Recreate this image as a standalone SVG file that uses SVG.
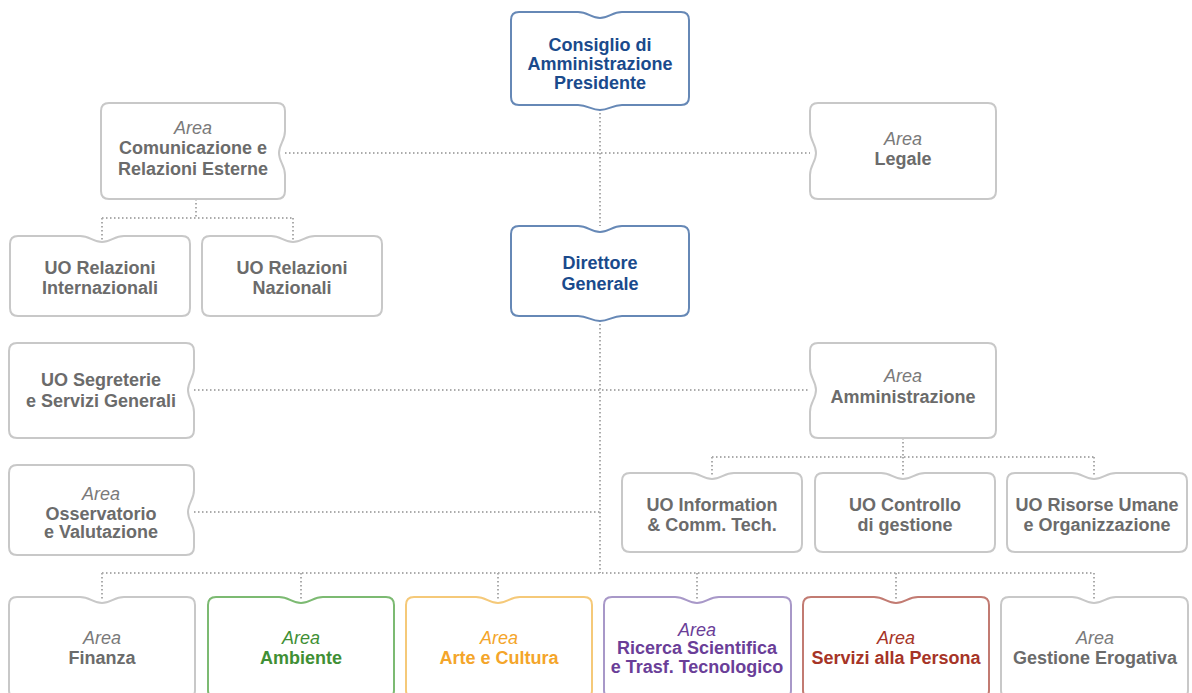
<svg xmlns="http://www.w3.org/2000/svg" width="1192" height="693" viewBox="0 0 1192 693">
<style>
.box{fill:#fff;stroke:#c8c8c8;stroke-width:2}
.blue{stroke:#6688b6}
.green{stroke:#7cba72}
.orange{stroke:#f5c979}
.purple{stroke:#a898c8}
.red{stroke:#c27b72}
.con{fill:none;stroke:#ababab;stroke-width:2;stroke-dasharray:1.5 2.5}
text{font-family:"Liberation Sans",Arial,sans-serif;font-size:18px;text-anchor:middle}
.b{font-weight:bold;fill:#6b6b6b}
.a{font-style:italic;fill:#7a7a7a}
.tb{fill:#1a4a8c}
.tg{fill:#3f8f35}
.to{fill:#f4a52a}
.tp{fill:#6a3e98}
.tr{fill:#a63427}
</style>
<g id="connectors">
<path class="con" d="M600 105V226M285 153H810M600 316V573M196 199V218M102 218H293M102 218V240M293 218V240M194 390H810M194 512H600M903 438V457M712 457H1094M712 457V477M903 457V477M1094 457V477M102 573H1094M102 573V600M301 573V600M498 573V600M697 573V600M896 573V600M1094 573V600"/>
</g>
<g id="consiglio">
<path class="box blue" d="M519 12H578C588 12 591 18 600 18C609 18 612 12 622 12H681Q689 12 689 20V97Q689 105 681 105H622C612 105 609 110 600 110C591 110 588 105 578 105H519Q511 105 511 97V20Q511 12 519 12Z"/>
<text class="b tb" x="600" y="51">Consiglio di</text>
<text class="b tb" x="600" y="70">Amministrazione</text>
<text class="b tb" x="600" y="89">Presidente</text>
</g>
<g id="direttore">
<path class="box blue" d="M519 226H578C588 226 591 232 600 232C609 232 612 226 622 226H681Q689 226 689 234V308Q689 316 681 316H622C612 316 609 321 600 321C591 321 588 316 578 316H519Q511 316 511 308V234Q511 226 519 226Z"/>
<text class="b tb" x="600" y="269">Direttore</text>
<text class="b tb" x="600" y="290">Generale</text>
</g>
<g id="comunicazione">
<path class="box" d="M109 103H277Q285 103 285 111V131C285 141 279 144 279 153C279 162 285 165 285 175V191Q285 199 277 199H109Q101 199 101 191V111Q101 103 109 103Z"/>
<text class="a" x="193" y="134">Area</text>
<text class="b" x="193" y="154">Comunicazione e</text>
<text class="b" x="193" y="175">Relazioni Esterne</text>
</g>
<g id="legale">
<path class="box" d="M818 103H988Q996 103 996 111V191Q996 199 988 199H818Q810 199 810 191V175C810 165 816 162 816 153C816 144 810 141 810 131V111Q810 103 818 103Z"/>
<text class="a" x="903" y="145">Area</text>
<text class="b" x="903" y="165">Legale</text>
</g>
<g id="uo-rel-int">
<path class="box" d="M18 236H80C90 236 93 242 102 242C111 242 114 236 124 236H182Q190 236 190 244V308Q190 316 182 316H18Q10 316 10 308V244Q10 236 18 236Z"/>
<text class="b" x="100" y="274">UO Relazioni</text>
<text class="b" x="100" y="294">Internazionali</text>
</g>
<g id="uo-rel-naz">
<path class="box" d="M210 236H271C281 236 284 242 293 242C302 242 305 236 315 236H374Q382 236 382 244V308Q382 316 374 316H210Q202 316 202 308V244Q202 236 210 236Z"/>
<text class="b" x="292" y="274">UO Relazioni</text>
<text class="b" x="292" y="294">Nazionali</text>
</g>
<g id="segreterie">
<path class="box" d="M17 343H186Q194 343 194 351V368C194 378 188 381 188 390C188 399 194 402 194 412V430Q194 438 186 438H17Q9 438 9 430V351Q9 343 17 343Z"/>
<text class="b" x="101" y="386">UO Segreterie</text>
<text class="b" x="101" y="407">e Servizi Generali</text>
</g>
<g id="osservatorio">
<path class="box" d="M17 465H186Q194 465 194 473V490C194 500 188 503 188 512C188 521 194 524 194 534V547Q194 555 186 555H17Q9 555 9 547V473Q9 465 17 465Z"/>
<text class="a" x="101" y="500">Area</text>
<text class="b" x="101" y="520">Osservatorio</text>
<text class="b" x="101" y="538">e Valutazione</text>
</g>
<g id="amministrazione">
<path class="box" d="M818 343H988Q996 343 996 351V430Q996 438 988 438H818Q810 438 810 430V412C810 402 816 399 816 390C816 381 810 378 810 368V351Q810 343 818 343Z"/>
<text class="a" x="903" y="382">Area</text>
<text class="b" x="903" y="403">Amministrazione</text>
</g>
<g id="uo-ict">
<path class="box" d="M630 473H690C700 473 703 479 712 479C721 479 724 473 734 473H794Q802 473 802 481V544Q802 552 794 552H630Q622 552 622 544V481Q622 473 630 473Z"/>
<text class="b" x="712" y="511">UO Information</text>
<text class="b" x="712" y="531">&amp; Comm. Tech.</text>
</g>
<g id="uo-controllo">
<path class="box" d="M823 473H881C891 473 894 479 903 479C912 479 915 473 925 473H987Q995 473 995 481V544Q995 552 987 552H823Q815 552 815 544V481Q815 473 823 473Z"/>
<text class="b" x="905" y="511">UO Controllo</text>
<text class="b" x="905" y="531">di gestione</text>
</g>
<g id="uo-risorse">
<path class="box" d="M1015 473H1072C1082 473 1085 479 1094 479C1103 479 1106 473 1116 473H1179Q1187 473 1187 481V544Q1187 552 1179 552H1015Q1007 552 1007 544V481Q1007 473 1015 473Z"/>
<text class="b" x="1097" y="511">UO Risorse Umane</text>
<text class="b" x="1097" y="531">e Organizzazione</text>
</g>
<g id="finanza">
<path class="box" d="M17 597H80C90 597 93 603 102 603C111 603 114 597 124 597H187Q195 597 195 605V690Q195 698 187 698H17Q9 698 9 690V605Q9 597 17 597Z"/>
<text class="a" x="102" y="644">Area</text>
<text class="b" x="102" y="664">Finanza</text>
</g>
<g id="ambiente">
<path class="box green" d="M216 597H279C289 597 292 603 301 603C310 603 313 597 323 597H386Q394 597 394 605V690Q394 698 386 698H216Q208 698 208 690V605Q208 597 216 597Z"/>
<text class="a tg" x="301" y="644">Area</text>
<text class="b tg" x="301" y="664">Ambiente</text>
</g>
<g id="arte">
<path class="box orange" d="M414 597H476C486 597 489 603 498 603C507 603 510 597 520 597H584Q592 597 592 605V690Q592 698 584 698H414Q406 698 406 690V605Q406 597 414 597Z"/>
<text class="a to" x="499" y="644">Area</text>
<text class="b to" x="499" y="664">Arte e Cultura</text>
</g>
<g id="ricerca">
<path class="box purple" d="M612 597H675C685 597 688 603 697 603C706 603 709 597 719 597H783Q791 597 791 605V690Q791 698 783 698H612Q604 698 604 690V605Q604 597 612 597Z"/>
<text class="a tp" x="697" y="636">Area</text>
<text class="b tp" x="697" y="654">Ricerca Scientifica</text>
<text class="b tp" x="697" y="673">e Trasf. Tecnologico</text>
</g>
<g id="servizi">
<path class="box red" d="M811 597H874C884 597 887 603 896 603C905 603 908 597 918 597H981Q989 597 989 605V690Q989 698 981 698H811Q803 698 803 690V605Q803 597 811 597Z"/>
<text class="a tr" x="896" y="644">Area</text>
<text class="b tr" x="896" y="664">Servizi alla Persona</text>
</g>
<g id="gestione">
<path class="box" d="M1009 597H1072C1082 597 1085 603 1094 603C1103 603 1106 597 1116 597H1180Q1188 597 1188 605V690Q1188 698 1180 698H1009Q1001 698 1001 690V605Q1001 597 1009 597Z"/>
<text class="a" x="1095" y="644">Area</text>
<text class="b" x="1095" y="664">Gestione Erogativa</text>
</g>
</svg>
